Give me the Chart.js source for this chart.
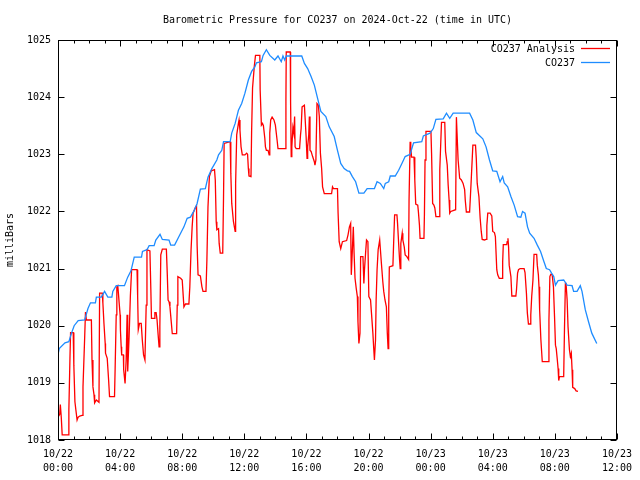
<!DOCTYPE html>
<html><head><meta charset="utf-8">
<script src="https://cdn.jsdelivr.net/npm/chart.js@4"></script>
<style>html,body{margin:0;padding:0;background:#fff;}canvas{display:block;}</style>
</head><body>
<canvas id="c" width="640" height="480"></canvas>
<script>
const titleText = 'Barometric Pressure for CO237 on 2024-Oct-22 (time in UTC)';
const seriesNames = ['CO237 Analysis', 'CO237'];
const seriesColors = ['#ff0000', '#1e8cff'];
const yAxisLabel = 'milliBars';
const tickHours = [0, 4, 8, 12, 16, 20, 24, 28, 32, 36];
const tickDates = ['10/22','10/22','10/22','10/22','10/22','10/22','10/23','10/23','10/23','10/23'];
const tickTimes = ['00:00','04:00','08:00','12:00','16:00','20:00','00:00','04:00','08:00','12:00'];
const yMin = 1018, yMax = 1025;

// hours since 2024-10-22 00:00 UTC
const redHours = [
0.02,0.11,0.15,0.21,0.27,0.66,0.70,0.77,0.81,0.98,
1.02,1.09,1.15,1.23,1.30,1.40,1.55,1.61,1.72,1.77,
1.83,2.15,2.19,2.25,2.32,2.36,2.47,2.64,2.68,2.85,
2.89,2.96,3.04,3.06,3.17,3.26,3.32,3.64,3.68,3.75,
3.79,3.85,3.89,4.00,4.02,4.07,4.10,4.21,4.23,4.32,
4.39,4.45,4.49,4.58,4.66,4.74,5.09,5.13,5.17,5.25,
5.36,5.43,5.51,5.60,5.68,5.73,5.92,5.98,6.02,6.19,
6.24,6.32,6.38,6.45,6.51,6.56,6.62,6.72,6.98,7.04,
7.09,7.15,7.21,7.30,7.36,7.64,7.68,7.72,7.90,8.00,
8.11,8.21,8.43,8.49,8.57,8.64,8.70,8.79,8.85,8.92,
8.96,9.02,9.17,9.27,9.34,9.53,9.59,9.66,9.75,9.87,
10.08,10.13,10.19,10.23,10.34,10.38,10.45,10.61,10.66,10.70,
11.09,11.13,11.19,11.30,11.41,11.44,11.51,11.62,11.66,11.72,
11.79,11.87,12.04,12.15,12.21,12.26,12.30,12.43,12.47,12.53,
12.64,12.72,13.00,13.02,13.10,13.17,13.23,13.32,13.36,13.42,
13.53,13.60,13.64,13.70,13.79,13.91,14.00,14.11,14.17,14.64,
14.68,14.70,14.96,14.98,15.02,15.06,15.13,15.19,15.24,15.27,
15.34,15.56,15.62,15.66,15.72,15.87,15.91,15.98,16.04,16.08,
16.15,16.19,16.23,16.30,16.40,16.51,16.55,16.61,16.68,16.77,
16.83,16.90,16.98,17.04,17.15,17.62,17.68,17.74,18.00,18.04,
18.11,18.21,18.32,18.59,18.68,18.77,18.85,18.89,18.96,19.02,
19.07,19.13,19.21,19.28,19.32,19.38,19.45,19.49,19.64,19.70,
19.74,19.81,19.87,19.96,20.02,20.13,20.19,20.28,20.34,20.38,
20.45,20.49,20.55,20.62,20.72,20.76,20.83,20.92,20.98,21.06,
21.15,21.21,21.26,21.30,21.34,21.57,21.62,21.68,21.83,21.87,
21.94,22.00,22.04,22.08,22.17,22.21,22.30,22.36,22.47,22.58,
22.61,22.68,22.72,22.77,22.93,22.98,23.04,23.17,23.21,23.28,
23.32,23.57,23.60,23.64,23.70,24.02,24.06,24.13,24.21,24.27,
24.34,24.55,24.59,24.70,24.91,24.96,25.07,25.13,25.19,25.23,
25.30,25.61,25.66,25.70,25.77,25.87,25.98,26.09,26.19,26.23,
26.30,26.51,26.55,26.62,26.72,26.89,26.94,27.00,27.11,27.19,
27.26,27.32,27.47,27.57,27.62,27.68,27.83,27.94,28.00,28.11,
28.17,28.26,28.32,28.42,28.60,28.64,28.68,28.90,28.93,28.98,
29.02,29.06,29.17,29.23,29.49,29.53,29.60,29.66,29.76,30.02,
30.08,30.17,30.23,30.30,30.40,30.45,30.51,30.59,30.66,30.83,
30.87,30.94,30.98,31.02,31.10,31.19,31.58,31.62,31.68,31.74,
31.83,31.91,31.98,32.04,32.09,32.15,32.21,32.25,32.30,32.57,
32.62,32.68,32.72,32.79,32.85,32.94,33.00,33.06,33.11,33.15,
33.28,33.37,33.49];
const redValues = [
1018.41,1018.45,1018.62,1018.4,1018.09,1018.09,1018.53,1019.43,1019.88,1019.88,
1019.31,1018.67,1018.53,1018.35,1018.4,1018.42,1018.43,1018.93,1019.81,1020.24,
1020.1,1020.1,1019.4,1018.93,1018.79,1018.65,1018.7,1018.66,1020.57,1020.57,
1020.4,1020.04,1019.69,1019.52,1019.43,1019.05,1018.76,1018.76,1019.25,1020.19,
1020.68,1020.7,1020.57,1020.19,1019.93,1019.63,1019.49,1019.49,1019.23,1018.99,
1019.4,1020.19,1019.2,1019.81,1020.51,1020.98,1020.98,1020.51,1019.93,1020.04,
1020.04,1019.75,1019.49,1019.4,1020.36,1021.33,1021.31,1020.63,1020.13,1020.13,
1020.23,1020.23,1020.1,1019.84,1019.63,1019.98,1021.24,1021.34,1021.34,1020.89,
1020.45,1020.42,1020.33,1020.05,1019.86,1019.86,1020.36,1020.86,1020.83,1020.8,
1020.33,1020.38,1020.38,1020.68,1021.33,1021.73,1021.97,1022.03,1022.07,1022.1,
1021.41,1020.89,1020.87,1020.68,1020.6,1020.6,1021.15,1022.08,1022.61,1022.71,
1022.73,1022.55,1021.82,1021.68,1021.7,1021.44,1021.27,1021.27,1022.23,1023.19,
1023.22,1022.67,1022.14,1021.82,1021.65,1022.49,1023.34,1023.54,1023.6,1023.42,
1023.13,1022.99,1022.99,1023.02,1023.0,1022.75,1022.62,1022.61,1023.4,1024.16,
1024.53,1024.73,1024.73,1024.13,1023.51,1023.54,1023.5,1023.28,1023.13,1023.07,
1023.07,1022.99,1023.37,1023.6,1023.65,1023.6,1023.51,1023.25,1023.1,1023.1,
1023.95,1024.79,1024.79,1023.92,1022.96,1023.13,1023.47,1023.37,1023.66,1023.13,
1023.1,1023.1,1023.34,1023.45,1023.83,1023.86,1023.66,1023.31,1022.93,1023.13,
1023.34,1023.66,1023.07,1023.05,1022.96,1022.87,1022.81,1022.9,1023.89,1023.86,
1023.66,1023.02,1022.75,1022.43,1022.31,1022.31,1022.43,1022.4,1022.4,1021.97,
1021.47,1021.35,1021.47,1021.49,1021.59,1021.73,1021.79,1020.89,1021.33,1021.73,
1021.27,1020.83,1020.65,1020.51,1020.07,1019.69,1019.87,1021.21,1021.21,1020.74,
1020.98,1021.27,1021.5,1021.47,1020.51,1020.45,1020.22,1019.87,1019.58,1019.4,
1019.75,1020.45,1020.98,1021.33,1021.5,1021.35,1021.09,1020.77,1020.6,1020.45,
1020.33,1019.87,1019.6,1020.3,1021.03,1021.05,1021.47,1021.94,1021.94,1021.79,
1021.44,1021.15,1021.0,1021.44,1021.62,1021.5,1021.38,1021.24,1021.21,1021.16,
1022.2,1023.22,1023.13,1022.95,1022.95,1022.55,1022.13,1022.11,1022.0,1021.76,
1021.53,1021.53,1021.94,1022.9,1023.4,1023.4,1023.02,1022.14,1022.11,1022.06,
1021.91,1021.91,1022.73,1023.56,1023.56,1023.05,1022.81,1022.46,1022.2,1021.97,
1022.0,1022.03,1023.65,1023.37,1022.9,1022.58,1022.55,1022.49,1022.38,1022.2,
1021.99,1021.99,1022.2,1022.58,1023.16,1023.16,1022.93,1022.49,1022.26,1021.88,
1021.65,1021.51,1021.5,1021.51,1021.75,1021.97,1021.97,1021.92,1021.65,1021.63,
1021.56,1020.98,1020.89,1020.83,1020.83,1021.12,1021.42,1021.42,1021.47,1021.53,
1021.38,1021.06,1020.86,1020.52,1020.52,1020.63,1020.92,1020.98,1021.0,1021.0,
1020.93,1020.57,1020.22,1020.03,1020.03,1020.19,1020.51,1020.8,1021.25,1021.25,
1021.06,1020.89,1020.68,1020.28,1019.76,1019.37,1019.37,1020.1,1020.86,1020.9,
1020.89,1020.68,1020.16,1019.66,1019.6,1019.43,1019.25,1019.04,1019.11,1019.11,
1019.93,1020.74,1020.74,1020.46,1019.98,1019.58,1019.46,1019.52,1019.23,1018.92,
1018.9,1018.86,1018.85];

const blueHours = [
0.02,0.08,0.45,0.70,0.87,1.04,1.30,1.72,1.93,2.09,
2.41,2.47,2.79,3.00,3.21,3.47,3.53,3.75,4.28,4.49,
4.70,4.91,5.38,5.44,5.73,5.87,6.19,6.30,6.57,6.72,
7.15,7.26,7.51,7.79,8.11,8.32,8.53,8.74,8.96,9.17,
9.49,9.66,9.91,10.23,10.34,10.55,10.66,11.09,11.19,11.41,
11.62,11.83,12.04,12.26,12.47,12.68,12.78,13.10,13.21,13.42,
13.64,13.96,14.17,14.38,14.49,14.60,14.70,15.70,15.87,16.08,
16.30,16.51,16.72,16.93,17.25,17.47,17.79,18.00,18.21,18.43,
18.64,18.78,18.96,19.17,19.38,19.70,19.91,20.38,20.55,20.76,
20.98,21.08,21.30,21.40,21.72,21.94,22.15,22.36,22.68,22.90,
23.43,23.53,23.96,24.17,24.34,24.81,25.02,25.23,25.45,26.51,
26.72,26.94,27.36,27.57,27.79,28.00,28.26,28.47,28.64,28.74,
28.96,29.17,29.38,29.60,29.81,29.92,30.08,30.24,30.38,30.66,
30.87,31.08,31.30,31.45,31.66,31.79,31.93,32.04,32.21,32.57,
32.79,33.11,33.21,33.43,33.64,33.75,33.96,34.17,34.38,34.70];
const blueValues = [
1019.52,1019.6,1019.7,1019.72,1019.87,1020.0,1020.09,1020.1,1020.3,1020.4,
1020.4,1020.5,1020.5,1020.6,1020.5,1020.5,1020.6,1020.7,1020.7,1020.85,
1020.96,1021.2,1021.2,1021.3,1021.33,1021.4,1021.4,1021.5,1021.6,1021.51,
1021.5,1021.41,1021.41,1021.56,1021.73,1021.88,1021.9,1022.0,1022.14,1022.39,
1022.4,1022.6,1022.75,1022.9,1022.99,1023.07,1023.22,1023.22,1023.37,1023.54,
1023.77,1023.89,1024.07,1024.3,1024.45,1024.53,1024.6,1024.62,1024.73,1024.83,
1024.73,1024.65,1024.72,1024.62,1024.72,1024.65,1024.72,1024.72,1024.59,1024.5,
1024.36,1024.21,1023.98,1023.75,1023.66,1023.48,1023.31,1023.07,1022.84,1022.75,
1022.71,1022.7,1022.61,1022.52,1022.32,1022.32,1022.4,1022.4,1022.52,1022.49,
1022.4,1022.49,1022.52,1022.62,1022.62,1022.72,1022.84,1022.96,1023.0,1023.2,
1023.22,1023.32,1023.37,1023.45,1023.61,1023.62,1023.72,1023.63,1023.72,1023.72,
1023.6,1023.38,1023.27,1023.13,1022.9,1022.71,1022.7,1022.52,1022.61,1022.5,
1022.43,1022.26,1022.11,1021.91,1021.9,1022.0,1021.97,1021.73,1021.62,1021.53,
1021.41,1021.3,1021.12,1021.0,1020.98,1020.92,1020.86,1020.71,1020.79,1020.8,
1020.71,1020.7,1020.6,1020.6,1020.7,1020.6,1020.28,1020.07,1019.87,1019.69];

const FONT = '"DejaVu Sans Mono", "Liberation Mono", monospace';
const toPts = (xs, ys) => xs.map((h, i) => ({x: h, y: ys[i]}));

const framePlugin = {
  id: 'frame',
  beforeDraw(chart) {
    const c = chart.ctx;
    c.save(); c.fillStyle = '#fff'; c.fillRect(0, 0, chart.width, chart.height); c.restore();
  },
  afterDraw(chart) {
    const {ctx, chartArea: a, scales: {x, y}} = chart;
    ctx.save();
    ctx.strokeStyle = '#000'; ctx.lineWidth = 1;
    const L = Math.round(a.left) + 0.5, R = Math.round(a.right) - 0.5;
    const T = Math.round(a.top) + 0.5, B = Math.round(a.bottom) - 0.5;
    ctx.beginPath();
    for (let h = 0; h <= 36; h++) {
      const px = Math.round(x.getPixelForValue(h)) + 0.5;
      const len = tickHours.includes(h) ? 6 : 3;
      ctx.moveTo(px, B); ctx.lineTo(px, B - len);
      ctx.moveTo(px, T); ctx.lineTo(px, T + len);
    }
    for (let v = yMin; v <= yMax; v++) {
      const py = Math.round(y.getPixelForValue(v)) + 0.5;
      ctx.moveTo(L, py); ctx.lineTo(L + 6, py);
      ctx.moveTo(R, py); ctx.lineTo(R - 6, py);
    }
    ctx.stroke();
    ctx.strokeRect(L, T, R - L, B - T);
    ctx.fillStyle = '#000';
    ctx.font = '10px ' + FONT;
    ctx.textAlign = 'center'; ctx.textBaseline = 'middle';
    ctx.fillText(titleText, (a.left + a.right) / 2, 20);
    ctx.textAlign = 'right';
    seriesNames.forEach((name, i) => {
      const ly = 48 + i * 14;
      ctx.fillStyle = '#000';
      ctx.fillText(name, 575, ly + 1);
      ctx.strokeStyle = seriesColors[i];
      ctx.lineWidth = 1.3;
      ctx.beginPath(); ctx.moveTo(581, ly + 0.5); ctx.lineTo(610, ly + 0.5); ctx.stroke();
    });
    ctx.restore();
  }
};

new Chart(document.getElementById('c'), {
  type: 'line',
  data: {
    datasets: [
      {label: seriesNames[0], data: toPts(redHours, redValues), borderColor: seriesColors[0], borderWidth: 1.3, pointRadius: 0, tension: 0, fill: false, order: 1},
      {label: seriesNames[1], data: toPts(blueHours, blueValues), borderColor: seriesColors[1], borderWidth: 1.3, pointRadius: 0, tension: 0, fill: false, order: 0}
    ]
  },
  options: {
    responsive: false, animation: false, devicePixelRatio: 1,
    layout: {padding: {top: 40, right: 18, left: 0, bottom: 0}},
    plugins: {legend: {display: false}, title: {display: false}, tooltip: {enabled: false}},
    scales: {
      x: {
        type: 'linear', min: 0, max: 36,
        afterBuildTicks: (s) => { s.ticks = tickHours.map(v => ({value: v})); },
        ticks: {
          autoSkip: false, maxRotation: 0, padding: 8, color: '#000',
          font: {family: FONT, size: 10, lineHeight: 1.35},
          callback: (v) => { const i = tickHours.indexOf(v); return i >= 0 ? [tickDates[i], tickTimes[i]] : ''; }
        },
        grid: {display: false, drawTicks: false}, border: {display: false},
        afterFit: (s) => { s.height = 40; }
      },
      y: {
        type: 'linear', min: yMin, max: yMax,
        ticks: {stepSize: 1, padding: 7, color: '#000', font: {family: FONT, size: 10}, callback: (v) => String(v)},
        grid: {display: false, drawTicks: false}, border: {display: false},
        title: {display: true, text: yAxisLabel, color: '#000', font: {family: FONT, size: 10}, padding: {top: 4, bottom: 0}},
        afterFit: (s) => { s.width = 58; }
      }
    }
  },
  plugins: [framePlugin]
});
</script>
</body></html>
